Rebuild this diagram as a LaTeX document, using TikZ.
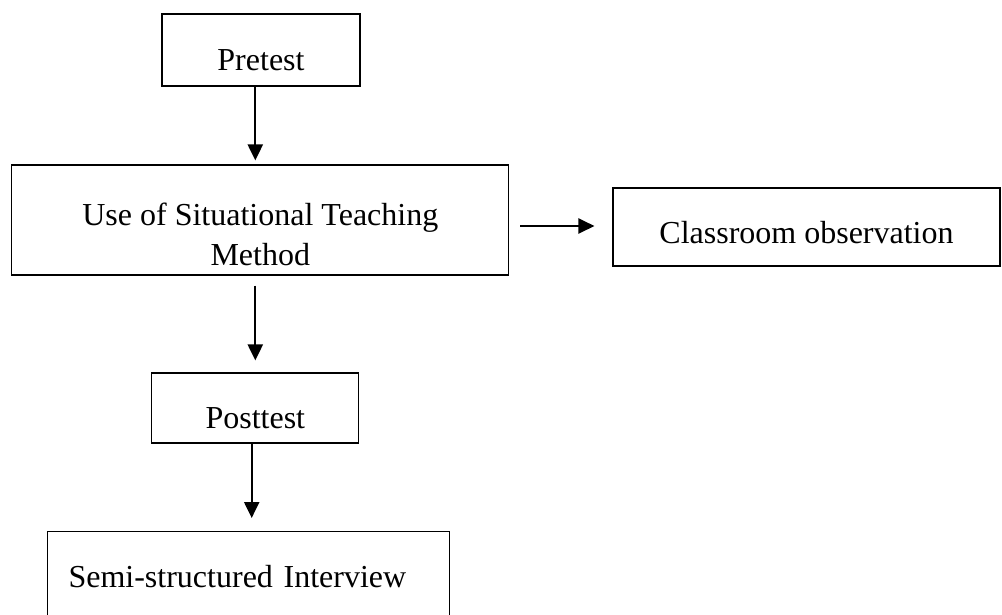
\documentclass[tikz,border=0pt]{standalone}
\usepackage{fontspec}
\setmainfont{Liberation Serif}
\usetikzlibrary{arrows.meta}
\begin{document}
\begin{tikzpicture}[x=1pt,y=-1pt,
  box/.style={draw, line width=1.1pt, inner sep=0pt, font=\fontsize{32}{40}\selectfont},
  arr/.style={line width=2.2pt, -{Triangle[length=16pt,width=15pt]}}]
\useasboundingbox (0,0) rectangle (1002,614);
\clip (0,0) rectangle (1002,614);
\node[box, minimum width=198pt, minimum height=72pt, text height=40pt, text depth=0pt] (pre) at (261,50) {Pretest};
\node[box, minimum width=497pt, minimum height=110pt, align=center, text height=90pt, text depth=0pt] (use) at (260.3,220) {Use of Situational Teaching\\Method};
\node[box, minimum width=387pt, minimum height=78pt, text height=32pt, text depth=0pt] (cls) at (806.5,227) {Classroom observation};
\node[box, minimum width=207pt, minimum height=70pt, text height=40pt, text depth=0pt] (post) at (255.3,408) {Posttest};
\node[box, anchor=north west, minimum height=110pt, text width=360pt, inner xsep=21pt, align=left, text height=12pt, text depth=10pt] (semi) at (47,531) {Semi-structured Interview};
\draw[arr, shorten >=4pt] ([xshift=-5.7pt]pre.south) -- ([xshift=-5.7pt]pre.south |- use.north);
\draw[arr, shorten <=11pt, shorten >=18pt] ([yshift=-6pt]use.east) -- ([yshift=-6pt]use.east -| cls.west);
\draw[arr, shorten <=10pt, shorten >=12pt] (post.north |- use.south) -- (post.north);
\draw[arr, shorten >=13pt] ([xshift=-3.6pt]post.south) -- ([xshift=-3.6pt]post.south |- semi.north);
\end{tikzpicture}
\end{document}
